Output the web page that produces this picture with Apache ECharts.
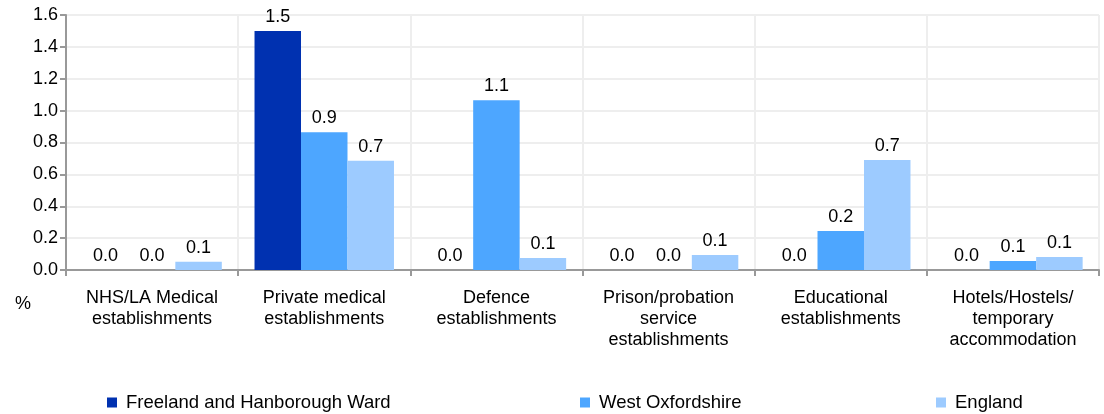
<!DOCTYPE html>
<html>
<head>
<meta charset="utf-8">
<script src="https://cdn.jsdelivr.net/npm/echarts@6/dist/echarts.min.js"></script>
<style>html,body{margin:0;padding:0;background:#fff}#c{width:1104px;height:414px}</style>
</head>
<body>
<div id="c"></div>
<script>
var categories = ['NHS/LA Medical\nestablishments', 'Private medical\nestablishments', 'Defence\nestablishments', 'Prison/probation\nservice\nestablishments', 'Educational\nestablishments', 'Hotels/Hostels/\ntemporary\naccommodation'];
var seriesNames = ['Freeland and Hanborough Ward', 'West Oxfordshire', 'England'];
var freeland = [0, 1.5, 0, 0, 0, 0];
var westOxfordshire = [0, 0.865, 1.065, 0, 0.245, 0.057];
var england = [0.052, 0.685, 0.075, 0.094, 0.69, 0.082];
var yTicks = [0, 0.2, 0.4, 0.6, 0.8, 1.0, 1.2, 1.4, 1.6];
var colors = ['#0031B0', '#4DA6FF', '#9DCBFF'];

var font = 'Liberation Sans, Arial, sans-serif';
var chart = echarts.init(document.getElementById('c'));
var values = [freeland, westOxfordshire, england];
var legendLefts = [107, 580, 936];
chart.setOption({
  animation: false,
  color: colors,
  textStyle: {fontFamily: font},
  grid: {left: 66, right: 5, top: 15, bottom: 144},
  legend: seriesNames.map(function (n, i) {
    return {data: [n], left: legendLefts[i], top: 393, padding: 0, itemWidth: 10, itemHeight: 10, itemGap: 0,
      icon: 'rect', textStyle: {fontSize: 18.5, color: '#000', fontFamily: font, padding: [0, 0, 0, 4]}};
  }),
  xAxis: {
    type: 'category', data: categories,
    axisLine: {lineStyle: {color: '#999', width: 2}},
    axisTick: {show: true, length: 6, lineStyle: {color: '#999', width: 2}},
    splitLine: {show: true, lineStyle: {color: '#eeeeee', width: 2}},
    axisLabel: {fontSize: 18, color: '#000', lineHeight: 21, margin: 18, interval: 0, fontFamily: font}
  },
  yAxis: {
    type: 'value', min: 0, max: 1.6, interval: 0.2,
    axisLine: {show: true, lineStyle: {color: '#999', width: 2}},
    axisTick: {show: true, length: 6, lineStyle: {color: '#999', width: 2}},
    splitLine: {show: true, lineStyle: {color: '#eeeeee', width: 2}},
    axisLabel: {fontSize: 18, color: '#000', margin: 8, fontFamily: font,
      formatter: function (v) { return v.toFixed(1); }}
  },
  graphic: [{type: 'text', left: 15, top: 295, style: {text: '%', fontSize: 18, fill: '#000', fontFamily: font}}],
  series: seriesNames.map(function (n, i) {
    return {
      name: n, type: 'bar', data: values[i], barGap: 0, barCategoryGap: '19%',
      label: {show: true, position: 'top', distance: 5, fontSize: 18, color: '#000', fontFamily: font,
        formatter: function (p) { return p.value.toFixed(1); }}
    };
  })
});
</script>
</body>
</html>
